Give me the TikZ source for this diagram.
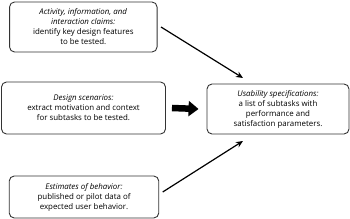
\documentclass[tikz,border=0pt]{standalone}
\usepackage{fontspec}
\setmainfont{Open Sans}
\usepackage{tikz}
\usetikzlibrary{arrows.meta}

\begin{document}
\begin{tikzpicture}[x=1pt,y=1pt,>={Stealth[length=7pt,width=6pt]},
    font=\fontsize{7.9}{10}\selectfont,
    stagebox/.style={draw=black!80,rounded corners=5pt,line width=0.9pt,align=center,
        inner sep=0pt}]
    \useasboundingbox (0,0) rectangle (350,219);

    \node[stagebox,minimum width=147.5,minimum height=50] (claims) at (83.3,192)
        {\textit{Activity, information, and}\\
         \textit{interaction claims:}\\
         identify key design features\\
         to be tested.};
    \node[stagebox,minimum width=164,minimum height=52] (scen) at (83.5,111)
        {\textit{Design scenarios:}\\
         extract motivation and context\\
         for subtasks to be tested.};
    \node[stagebox,minimum width=149.5,minimum height=42] (estim) at (84,22)
        {\textit{Estimates of behavior:}\\
         published or pilot data of\\
         expected user behavior.};
    \node[stagebox,minimum width=142,minimum height=50] (usab) at (278,110)
        {\textit{Usability specifications:}\\
         a list of subtasks with\\
         performance and\\
         satisfaction parameters.};

    \coordinate (topend) at (243,141);
    \coordinate (botend) at (243,78);

    \draw[->,line width=1.2pt] ([xshift=3.5pt]claims.east) -- (topend);
    \draw[->,line width=1.2pt] ([xshift=3.5pt,yshift=5pt]estim.east) -- (botend);
    \draw[-{Triangle[length=10pt,width=15pt]},line width=6.5pt]
        ([xshift=6pt]scen.east) -- ([xshift=-8pt]usab.west);
\end{tikzpicture}
\end{document}
